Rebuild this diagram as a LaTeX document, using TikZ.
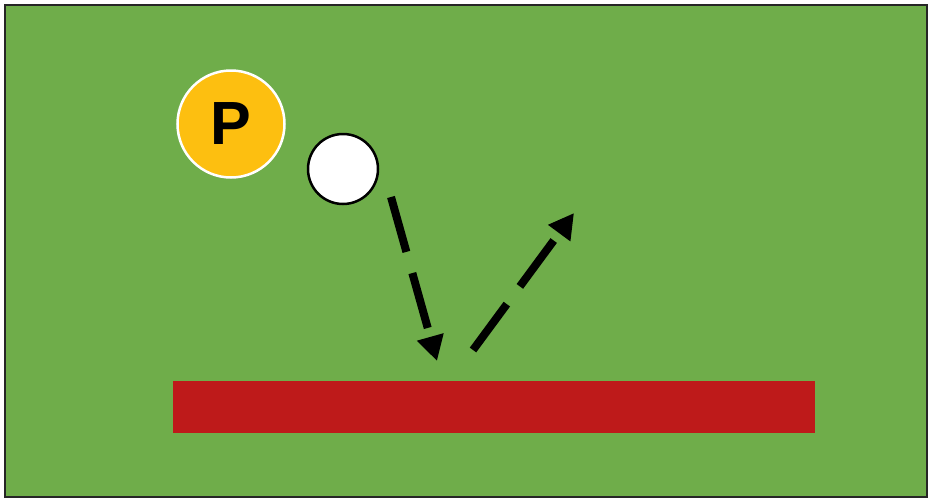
\documentclass[tikz,border=0pt]{standalone}
\usepackage{fontspec}
\setmainfont{Liberation Sans}
\usetikzlibrary{arrows.meta,shadows}
\definecolor{field}{HTML}{6FAD4A}
\definecolor{wall}{HTML}{BE1A1A}
\definecolor{pyel}{HTML}{FDBF10}
\tikzset{
  move/.style={line width=8pt, dash pattern=on 57pt off 22pt, -{Triangle[length=25pt,width=26pt]}, draw=black},
}
\begin{document}
\begin{tikzpicture}[x=1pt,y=-1pt]
\useasboundingbox (0,0) rectangle (930,501);
\fill[white] (0,0) rectangle (930,501);
\draw[fill=field, draw=black!85, line width=2pt] (5,5) rectangle (927,497);
\node[fill=wall, minimum width=642pt, minimum height=52pt, inner sep=0pt, anchor=north west] (wallbar) at (173,381) {};
\node[circle, fill=pyel, draw=white, line width=2.5pt, minimum size=107pt, inner sep=0pt,
  drop shadow={shadow xshift=0pt, shadow yshift=-1.5pt, opacity=0.25}] (player) at (231,124) {\fontsize{61pt}{61pt}\selectfont\bfseries P};
\node[circle, fill=white, draw=black, line width=2.5pt, minimum size=70pt, inner sep=0pt] (ball) at (343,169) {};
\coordinate (a1s) at (391,197);
\coordinate (a1e) at (437,361);
\coordinate (a2s) at (473,350);
\coordinate (a2e) at (574,213);
\draw[move] (a1s) -- (a1e);
\draw[move] (a2s) -- (a2e);
\end{tikzpicture}
\end{document}
